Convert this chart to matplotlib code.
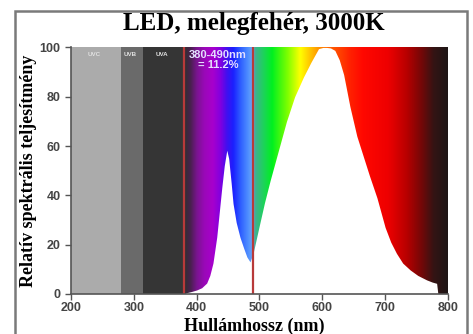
import numpy as np
import matplotlib
matplotlib.use("Agg")
import matplotlib.pyplot as plt
from matplotlib.colors import LinearSegmentedColormap
from matplotlib.patches import Rectangle

# ---- data ----
wavelengths = [380, 384, 392, 400, 408, 416, 421, 426, 432, 436, 440, 444, 448, 451,
               455, 458, 463, 469, 475, 480, 485, 490, 500, 508, 517, 530, 543, 556,
               570, 582, 594, 601, 607, 613, 620, 627, 634, 644, 655, 665, 675, 687,
               700, 709, 718, 728, 740, 752, 766, 775, 782, 784, 800]
power = [0, 0.5, 1.0, 1.6, 2.5, 4.4, 7.5, 12.5, 23, 33, 43, 52, 58.3, 55,
         45, 36.7, 29, 23, 18.5, 15, 13, 16.6, 28, 37, 46, 58, 70, 80,
         88, 94, 99.5, 100, 100, 99.8, 98.8, 95, 89, 76, 64, 56, 48, 39,
         27, 21, 16.5, 12.5, 9.7, 7.5, 5.7, 4.8, 4.3, 0, 0]

uv_bands = ["UVC", "UVB", "UVA"]
uv_edges = [200, 280, 315, 380]
uv_colors = ["#ababab", "#6a6a6a", "#353535"]
marker_lines = [380, 490]
annotation = "380-490nm\n= 11.2%"
title = "LED, melegfehér, 3000K"
xlabel = "Hullámhossz (nm)"
ylabel = "Relatív spektrális teljesítmény"
xticks = [200, 300, 400, 500, 600, 700, 800]
yticks = [0, 20, 40, 60, 80, 100]

# spectrum colour stops (wavelength, colour)
spec_stops = [(380, "#303030"), (390, "#4a2050"), (400, "#7a1490"), (412, "#9a08b8"),
              (425, "#a800cc"), (438, "#8000e0"), (448, "#4010f0"), (458, "#1a20ff"),
              (470, "#2f60ff"), (482, "#5090ff"), (489, "#70a8f0"), (493, "#40b090"),
              (505, "#20d060"), (520, "#00f020"), (545, "#80ff00"), (565, "#ffff00"),
              (582, "#ffc000"), (600, "#ff8000"), (620, "#ff5000"), (645, "#ff2000"),
              (665, "#ff0800"), (705, "#ee0000"), (735, "#b80000"), (760, "#700808"),
              (778, "#341414"), (800, "#1e1616")]

# ---- figure ----
fig = plt.figure(figsize=(4.73, 3.34), dpi=100)
ax = fig.add_axes([0.150, 0.120, 0.797, 0.738])

# gray UV bands
for i in range(len(uv_bands)):
    ax.axvspan(uv_edges[i], uv_edges[i + 1], color=uv_colors[i], zorder=0, lw=0)

# spectrum gradient
lo, hi = spec_stops[0][0], spec_stops[-1][0]
cmap = LinearSegmentedColormap.from_list(
    "spec", [((w - lo) / (hi - lo), c) for w, c in spec_stops])
grad = np.linspace(0, 1, 512)[None, :]
ax.imshow(grad, cmap=cmap, extent=[lo, hi, 0, 100], aspect="auto", zorder=0.5,
          interpolation="bilinear")

# white under the curve
ax.fill_between(wavelengths, power, 0, color="white", lw=0, zorder=1)

# red marker lines
for xv in marker_lines:
    ax.axvline(xv, color="#b83a3a", lw=1.6, zorder=2)

# band labels
for i, name in enumerate(uv_bands):
    ax.text((uv_edges[i] + uv_edges[i + 1]) / 2 - 3, 98, name, ha="center", va="top",
            fontsize=4.5, color="#e0e0e0", family="Liberation Sans", fontweight="bold",
            zorder=3)
ax.text(434, 99, annotation, ha="center", va="top", fontsize=8, color="#e4e0ff",
        family="Liberation Sans", fontweight="bold", linespacing=1.05, zorder=3)

ax.set_xlim(200, 800)
ax.set_ylim(0, 100)
ax.set_xticks(xticks)
ax.set_yticks(yticks)
for s in ["top", "right"]:
    ax.spines[s].set_visible(False)
for s in ["left", "bottom"]:
    ax.spines[s].set_color("#555555")
    ax.spines[s].set_linewidth(1.2)
    ax.spines[s].set_zorder(4)
ax.tick_params(direction="out", length=4, width=1, color="#555555",
               labelcolor="#444444", labelsize=9)
ax.tick_params(axis="x", pad=2)
for lab in ax.get_xticklabels() + ax.get_yticklabels():
    lab.set_fontfamily("Liberation Sans")
    lab.set_fontweight("bold")

fig.text(0.537, 1 - 331 / 334, xlabel, ha="center", va="baseline",
         family="Liberation Serif", fontweight="bold", fontsize=13)
ax.set_ylabel(ylabel, family="Liberation Serif", fontweight="bold", fontsize=13,
              labelpad=2)
fig.text(0.537, 0.895, title, ha="center", va="bottom", family="Liberation Serif",
         fontweight="bold", fontsize=18)

# outer frame
fig.patches.append(Rectangle((15 / 473, -0.1), 452 / 473, 1.1 - 11 / 334,
                             transform=fig.transFigure, fill=False,
                             edgecolor="#7a7a7a", lw=1.8))

fig.savefig("out.png", dpi=100)
